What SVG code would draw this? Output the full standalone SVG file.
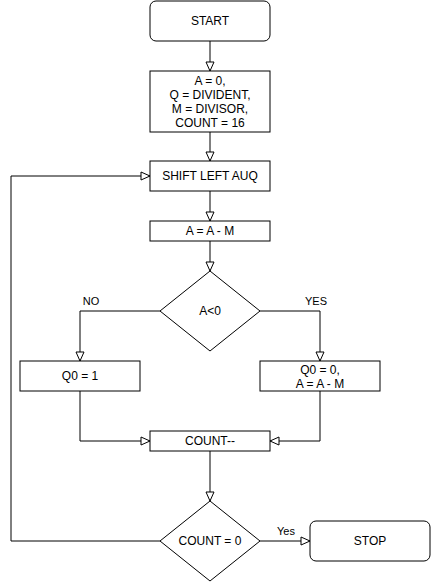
<svg xmlns="http://www.w3.org/2000/svg" width="432" height="583" viewBox="0 0 432 583">
<defs>
<style>
.n{fill:#fff;stroke:#000;stroke-width:1}
.t{font-family:"Liberation Sans",Arial,sans-serif;font-size:12px;fill:#000;text-anchor:middle}
.l{font-family:"Liberation Sans",Arial,sans-serif;font-size:11px;fill:#000;text-anchor:middle}
.c{fill:none;stroke:#000;stroke-width:1}
</style>
<marker id="a" markerWidth="11" markerHeight="10" refX="10" refY="5" orient="auto" markerUnits="userSpaceOnUse">
<path d="M1,1 L10,5 L1,9 Z" fill="#fff" stroke="#000" stroke-width="1"/>
</marker>
</defs>
<rect width="432" height="583" fill="#fff"/>
<g id="connectors">
<path class="c" d="M210,41 V71" marker-end="url(#a)"/>
<path class="c" d="M210,132 V161" marker-end="url(#a)"/>
<path class="c" d="M210,191 V221" marker-end="url(#a)"/>
<path class="c" d="M210,241 V271" marker-end="url(#a)"/>
<path class="c" d="M160,311 H80 V361" marker-end="url(#a)"/>
<path class="c" d="M260,311 H320 V361" marker-end="url(#a)"/>
<path class="c" d="M80,391 V441 H150" marker-end="url(#a)"/>
<path class="c" d="M320,391 V441 H270" marker-end="url(#a)"/>
<path class="c" d="M210,451 V501" marker-end="url(#a)"/>
<path class="c" d="M160,541 H11 V176 H150" marker-end="url(#a)"/>
<path class="c" d="M260,541 H310" marker-end="url(#a)"/>
<text class="l" x="91" y="305">NO</text>
<text class="l" x="316" y="305">YES</text>
<text class="l" x="286" y="535">Yes</text>
</g>
<g id="start">
<rect class="n" x="150" y="1" width="120" height="40" rx="6"/>
<text class="t" x="210" y="25">START</text>
</g>
<g id="init">
<rect class="n" x="150" y="71" width="120" height="61"/>
<text class="t" x="210" y="85">A = 0,</text>
<text class="t" x="210" y="99">Q = DIVIDENT,</text>
<text class="t" x="210" y="113">M = DIVISOR,</text>
<text class="t" x="210" y="127">COUNT = 16</text>
</g>
<g id="shift">
<rect class="n" x="150" y="161" width="120" height="30"/>
<text class="t" x="210" y="180">SHIFT LEFT AUQ</text>
</g>
<g id="sub">
<rect class="n" x="150" y="221" width="120" height="20"/>
<text class="t" x="210" y="235">A = A - M</text>
</g>
<g id="cond1">
<path class="n" d="M210,271 L260,311 L210,351 L160,311 Z"/>
<text class="t" x="210" y="315">A&lt;0</text>
</g>
<g id="q1">
<rect class="n" x="20" y="361" width="120" height="30"/>
<text class="t" x="80" y="380">Q0 = 1</text>
</g>
<g id="q0">
<rect class="n" x="260" y="361" width="120" height="30"/>
<text class="t" x="320" y="373.5">Q0 = 0,</text>
<text class="t" x="320" y="388">A = A - M</text>
</g>
<g id="dec">
<rect class="n" x="150" y="431" width="120" height="20"/>
<text class="t" x="210" y="445">COUNT--</text>
</g>
<g id="cond2">
<path class="n" d="M210,501 L260,541 L210,581 L160,541 Z"/>
<text class="t" x="210" y="545">COUNT = 0</text>
</g>
<g id="stop">
<rect class="n" x="310" y="521" width="120" height="40" rx="6"/>
<text class="t" x="370" y="545">STOP</text>
</g>
</svg>
